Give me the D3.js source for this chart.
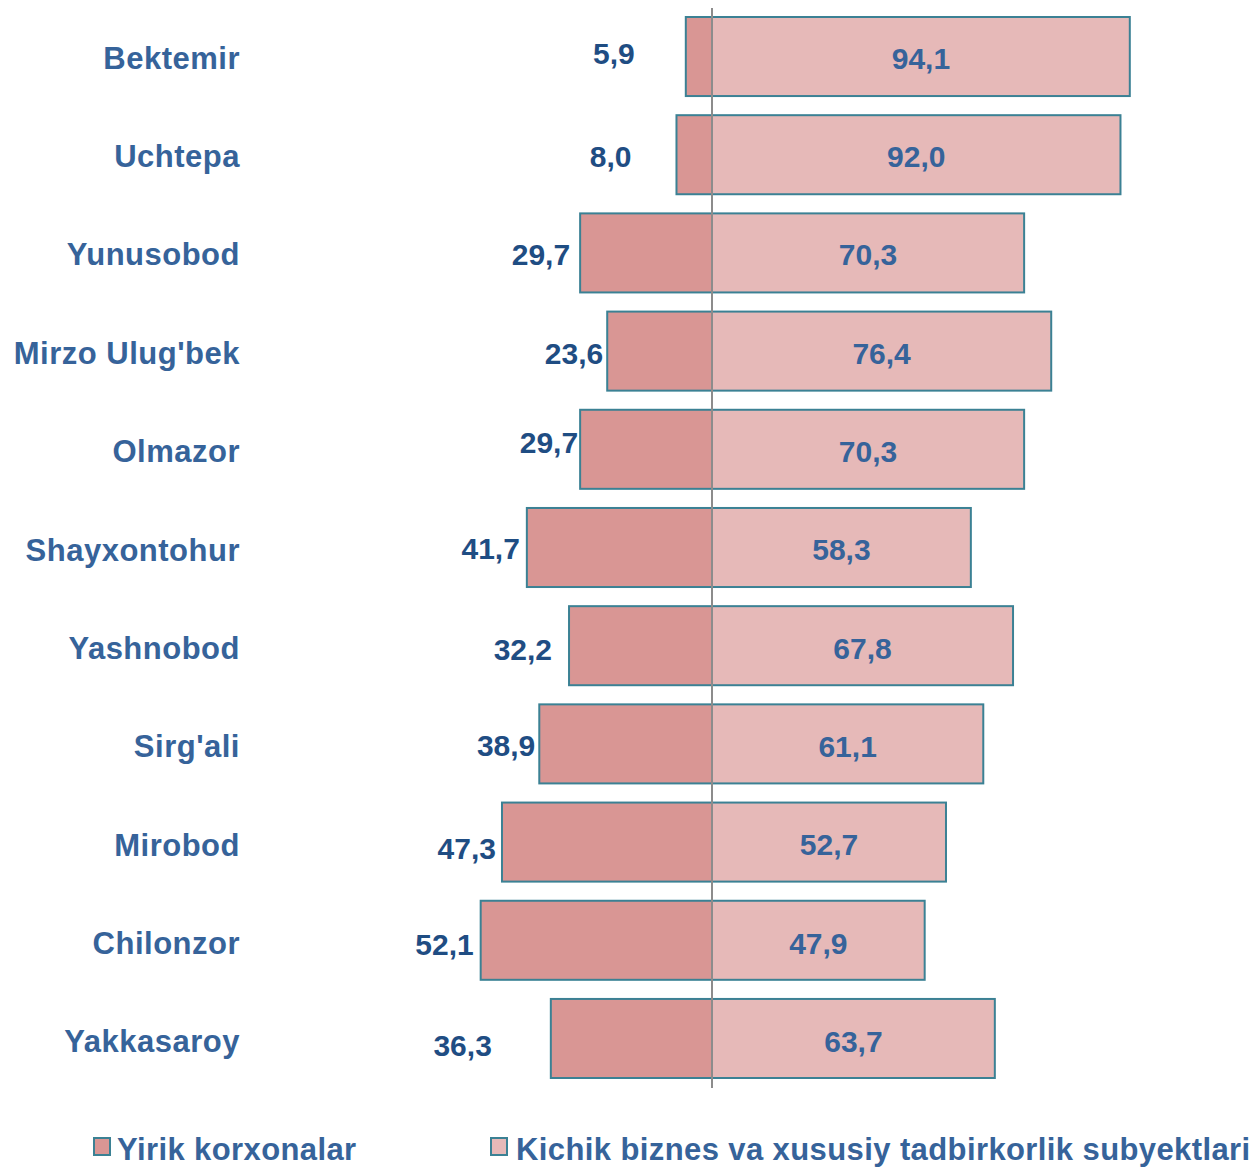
<!DOCTYPE html>
<html>
<head>
<meta charset="utf-8">
<script src="https://cdn.jsdelivr.net/npm/d3@7"></script>
<style>
  html, body { margin: 0; padding: 0; background: #ffffff; }
  svg { display: block; }
  text { font-family: "Liberation Sans", Arial, sans-serif; font-weight: bold; }
</style>
</head>
<body>
<svg id="chart" width="1256" height="1168"></svg>
<script>
// ---- data ----
const districts = ["Bektemir", "Uchtepa", "Yunusobod", "Mirzo Ulug'bek", "Olmazor", "Shayxontohur", "Yashnobod", "Sirg'ali", "Mirobod", "Chilonzor", "Yakkasaroy"];
const largeShare = [5.9, 8.0, 29.7, 23.6, 29.7, 41.7, 32.2, 38.9, 47.3, 52.1, 36.3];
const smallShare = [94.1, 92.0, 70.3, 76.4, 70.3, 58.3, 67.8, 61.1, 52.7, 47.9, 63.7];
const seriesNames = ["Yirik korxonalar", "Kichik biznes va xususiy tadbirkorlik subyektlari"];

// ---- layout (label placement nudges as in the original) ----
const leftLabelGap = [51, 45, 10, 4, 2, 7, 17, 4, 6, 7, 59];
const leftLabelDy = [-4, 1, 1, 2, -7, 0, 3, 1, 6, 4, 7];

const svg = d3.select("#chart");
const cx = 712;
const x = d3.scaleLinear().domain([0, 100]).range([0, 444]);
const y = d3.scaleBand().domain(districts).range([17, 1078]).paddingInner(0.195).paddingOuter(0);

const colLarge = "#d99694", colSmall = "#e6b9b8", stroke = "#3b8194";
const catColor = "#36639a", valColor = "#1f4d83";

const rows = districts.map((d, i) => ({ d, i, l: largeShare[i], s: smallShare[i] }));

// bars
svg.selectAll("rect.large").data(rows).join("rect")
  .attr("x", r => cx - x(r.l)).attr("y", r => y(r.d))
  .attr("width", r => x(r.l)).attr("height", y.bandwidth())
  .attr("fill", colLarge).attr("stroke", stroke).attr("stroke-width", 2);
svg.selectAll("rect.small").data(rows).join("rect")
  .attr("x", cx).attr("y", r => y(r.d))
  .attr("width", r => x(r.s)).attr("height", y.bandwidth())
  .attr("fill", colSmall).attr("stroke", stroke).attr("stroke-width", 2);

// center axis line
svg.append("line").attr("x1", cx).attr("x2", cx).attr("y1", 8).attr("y2", 1088)
  .attr("stroke", "#8c8c8c").attr("stroke-width", 2);

// category labels
svg.selectAll("text.cat").data(rows).join("text")
  .attr("x", 240).attr("y", r => y(r.d) + y.bandwidth() / 2 + 12 + r.i * 0.2)
  .attr("text-anchor", "end").attr("font-size", 31).attr("letter-spacing", 0.5)
  .attr("fill", catColor)
  .text(r => r.d);

const fmt = v => v.toFixed(1).replace(".", ",");

// left value labels
svg.selectAll("text.lv").data(rows).join("text")
  .attr("x", r => cx - x(r.l) - leftLabelGap[r.i])
  .attr("y", r => y(r.d) + y.bandwidth() / 2 + 11 + leftLabelDy[r.i])
  .attr("text-anchor", "end").attr("font-size", 30).attr("fill", valColor)
  .text(r => fmt(r.l));

// right value labels
svg.selectAll("text.rv").data(rows).join("text")
  .attr("x", r => cx + x(r.s) / 2)
  .attr("y", r => y(r.d) + y.bandwidth() / 2 + 12 + r.i * 0.15)
  .attr("text-anchor", "middle").attr("font-size", 30).attr("fill", catColor)
  .text(r => fmt(r.s));

// legend
const legend = [
  { name: seriesNames[0], color: colLarge, x: 94, tx: 117 },
  { name: seriesNames[1], color: colSmall, x: 491, tx: 516 }
];
const lg = svg.selectAll("g.leg").data(legend).join("g");
lg.append("rect").attr("x", l => l.x).attr("y", 1138).attr("width", 16).attr("height", 17)
  .attr("fill", l => l.color).attr("stroke", stroke).attr("stroke-width", 2);
lg.append("text").attr("x", l => l.tx).attr("y", 1160).attr("font-size", 31)
  .attr("letter-spacing", 0.4)
  .attr("fill", catColor).text(l => l.name);
</script>
</body>
</html>
